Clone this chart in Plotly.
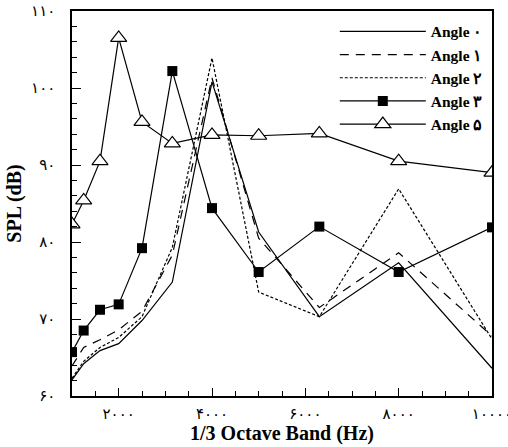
import plotly.graph_objects as go

freq = [1000, 1250, 1600, 2000, 2500, 3150, 4000, 5000, 6300, 8000, 10000]
angle0 = [62.1, 64.2, 65.9, 66.8, 69.8, 74.8, 100.8, 81.3, 70.3, 77.3, 63.6]
angle1 = [63.9, 66.3, 67.3, 68.6, 71.0, 78.3, 101.3, 80.5, 71.5, 78.6, 67.8]
angle2 = [62.3, 64.5, 66.3, 67.6, 70.3, 79.3, 103.9, 73.5, 70.3, 86.9, 67.4]
angle3 = [65.7, 68.5, 71.2, 71.9, 79.2, 102.2, 84.4, 76.1, 82.0, 76.1, 81.9]
angle5 = [82.3, 85.4, 90.5, 106.5, 95.6, 92.8, 93.9, 93.8, 94.1, 90.5, 89.0]

names = ["Angle ۰", "Angle ۱", "Angle ۲", "Angle ۳", "Angle ۵"]
x_tickvals = [2000, 4000, 6000, 8000, 10000]
x_ticktext = ["۲۰۰۰", "۴۰۰۰", "۶۰۰۰", "۸۰۰۰", "۱۰۰۰۰"]
y_tickvals = [60, 70, 80, 90, 100, 110]
y_ticktext = ["۶۰", "۷۰", "۸۰", "۹۰", "۱۰۰", "۱۱۰"]

serif = "Liberation Serif, Times New Roman, DejaVu Serif, serif"
tickfont = dict(family="Liberation Serif, DejaVu Sans, serif", size=15, color="black")

fig = go.Figure()
fig.add_trace(go.Scatter(x=freq, y=angle0, mode="lines", name=names[0],
                         line=dict(color="black", width=1.2)))
fig.add_trace(go.Scatter(x=freq, y=angle1, mode="lines", name=names[1],
                         line=dict(color="black", width=1.2, dash="9px,7px")))
fig.add_trace(go.Scatter(x=freq, y=angle2, mode="lines", name=names[2],
                         line=dict(color="black", width=1.2, dash="3px,2px")))
fig.add_trace(go.Scatter(x=freq, y=angle3, mode="lines+markers", name=names[3],
                         line=dict(color="black", width=1.2),
                         marker=dict(symbol="square", size=10, color="black")))
fig.add_trace(go.Scatter(x=freq, y=angle5, mode="lines+markers", name=names[4],
                         line=dict(color="black", width=1.2),
                         marker=dict(symbol="triangle-up", size=14, color="white",
                                     line=dict(color="black", width=1.2))))

fig.update_layout(
    width=508, height=447,
    margin=dict(l=72, r=16, t=11, b=51, autoexpand=False),
    paper_bgcolor="white", plot_bgcolor="white",
    showlegend=True,
    legend=dict(x=0.99, y=0.99, xanchor="right", yanchor="top",
                bgcolor="rgba(0,0,0,0)", itemwidth=86,
                font=dict(family=serif, size=15.5, color="black", weight="bold"),
                tracegroupgap=0),
    font=dict(family=serif, color="black"),
)
fig.update_xaxes(
    range=[1000, 10000], tickvals=x_tickvals, ticktext=x_ticktext,
    ticks="inside", ticklen=8, tickwidth=1.2, tickcolor="black",
    minor=dict(tickvals=list(range(1000, 10001, 500)), ticks="inside", ticklen=5,
               tickcolor="black", tickwidth=1, showgrid=False),
    showline=True, linecolor="black", linewidth=1.5, mirror=True,
    showgrid=False, zeroline=False, tickfont=tickfont, ticklabelstandoff=3,
    ticklabeloverflow="allow",
    title=dict(text="<b>1/3 Octave Band (Hz)</b>", font=dict(family=serif, size=20, color="black"),
               standoff=4),
)
fig.update_yaxes(
    range=[60, 110], tickvals=y_tickvals, ticktext=y_ticktext,
    ticks="inside", ticklen=9, tickwidth=1.2, tickcolor="black",
    minor=dict(tickvals=list(range(60, 111, 2)), ticks="inside", ticklen=5,
               tickcolor="black", tickwidth=1, showgrid=False),
    showline=True, linecolor="black", linewidth=1.5, mirror=True,
    showgrid=False, zeroline=False, tickfont=tickfont, ticklabelstandoff=12,
    ticklabeloverflow="allow",
    title=dict(text="<b>SPL (dB)</b>", font=dict(family=serif, size=20, color="black"),
               standoff=4),
)

fig.write_html("out.html")
